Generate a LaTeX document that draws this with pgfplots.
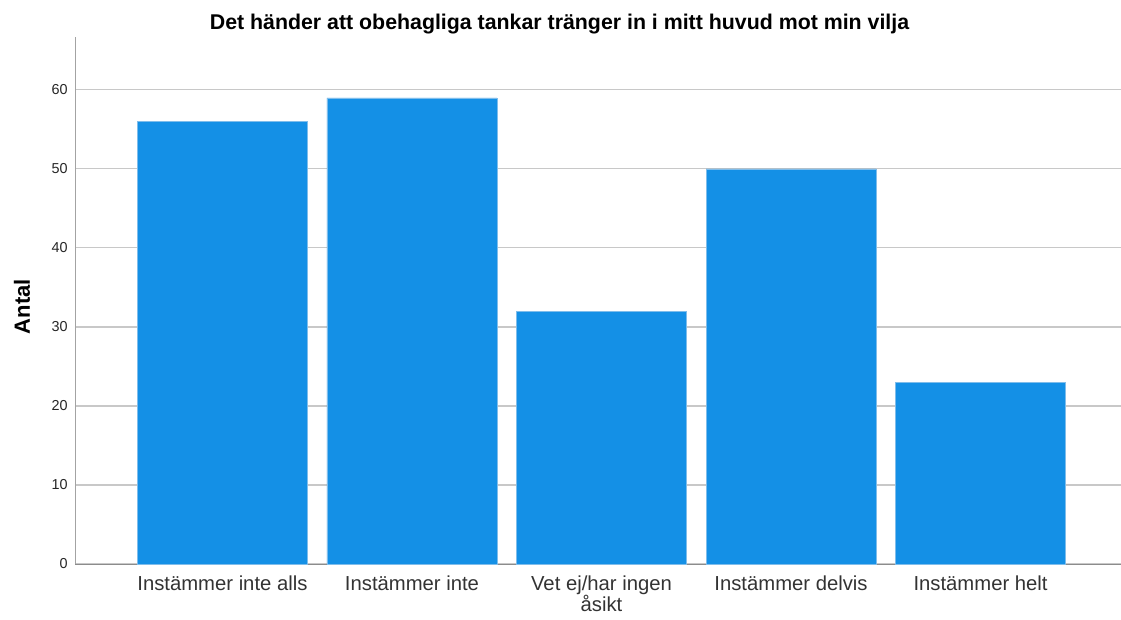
\documentclass[border=0pt]{standalone}
\usepackage{fontspec}
\setmainfont{Liberation Sans}
\usepackage{pgfplots}
\pgfplotsset{compat=1.18}
\definecolor{barblue}{HTML}{1490E6}
\definecolor{baredge}{HTML}{7FBDEB}
\definecolor{gridgray}{HTML}{C8C8C8}
\definecolor{axisgray}{HTML}{8C8C8C}

\begin{document}
\begin{tikzpicture}[x=1pt,y=1pt]
% image frame: 1121 x 619 px at 0.75pt per px, axis box origin at px (75,564)
\useasboundingbox (-56.25,-41.25) rectangle (784.5,423);
\begin{axis}[
  at={(0,0)}, anchor=south west,
  scale only axis,
  width=784.5pt, height=395.25pt,
  ymin=0, ymax=66.7,
  xmin=-0.778, xmax=4.741,
  ytick={0,10,20,30,40,50,60},
  xtick={0,1,2,3,4},
  xticklabels={Instämmer inte alls, Instämmer inte, {Vet ej/har ingen\\åsikt}, Instämmer delvis, Instämmer helt},
  xticklabel style={font=\fontsize{15.2}{15}\selectfont, text=black!80, align=center, yshift=-5pt},
  yticklabel style={font=\fontsize{10.8}{12}\selectfont, text=black!85, xshift=-2pt},
  /pgf/number format/assume math mode=true,
  major tick length=0pt,
  axis x line*=bottom, axis y line*=left,
  x axis line style={draw=axisgray, -}, y axis line style={draw=axisgray!80, -},
  ymajorgrids, grid style={gridgray, line width=0.8pt},
  ylabel={\textbf{Antal}},
  ylabel style={font=\fontsize{16.5}{18}\selectfont, at={(axis description cs:-0.0507,0.488)}, anchor=center},
  ybar, bar width=0.897,
]
\addplot[fill=barblue, draw=baredge, line width=0.4pt] coordinates {(0,56) (1,59) (2,32) (3,50) (4,23)};
\end{axis}
\node[font=\bfseries\fontsize{16}{18}\selectfont] at (363.4,405) {Det händer att obehagliga tankar tränger in i mitt huvud mot min vilja};
\end{tikzpicture}
\end{document}
